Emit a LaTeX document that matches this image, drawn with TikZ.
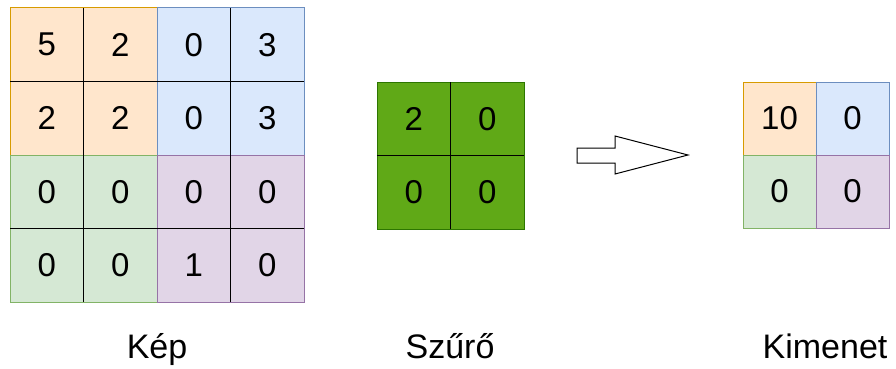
\documentclass[tikz,border=0pt]{standalone}
\usepackage{fontspec}
\setmainfont{Liberation Sans}
\definecolor{orangeF}{HTML}{FFE6CC}\definecolor{orangeD}{HTML}{D79B00}
\definecolor{blueF}{HTML}{DAE8FC}\definecolor{blueD}{HTML}{6C8EBF}
\definecolor{greenF}{HTML}{D5E8D4}\definecolor{greenD}{HTML}{82B366}
\definecolor{purpleF}{HTML}{E1D5E7}\definecolor{purpleD}{HTML}{9673A6}
\definecolor{filterF}{HTML}{60A917}\definecolor{filterD}{HTML}{2D7600}
\begin{document}
\begin{tikzpicture}[x=1pt,y=-1pt,line width=1pt,
  num/.style={font=\fontsize{33}{40}\selectfont, inner sep=0pt},
  lbl/.style={font=\fontsize{34}{40}\selectfont, inner sep=0pt, anchor=base},
  gridline/.style={draw=black, line width=1pt}]
\useasboundingbox (0,0) rectangle (896,369);

% input image: four coloured 2x2 blocks
\filldraw[fill=orangeF, draw=orangeD] (10,8) rectangle (157,155);
\filldraw[fill=blueF, draw=blueD] (157,8) rectangle (304,155);
\filldraw[fill=greenF, draw=greenD] (10,155) rectangle (157,302);
\filldraw[fill=purpleF, draw=purpleD] (157,155) rectangle (304,302);
\draw[gridline] (10,81.5) -- (304,81.5);
\draw[gridline] (10,228.5) -- (304,228.5);
\draw[gridline] (83.5,8) -- (83.5,302);
\draw[gridline] (230.5,8) -- (230.5,302);

\node[num] (k11) at (46.75,44.75) {5};
\node[num] (k12) at (120.25,44.75) {2};
\node[num] (k13) at (193.75,44.75) {0};
\node[num] (k14) at (267.25,44.75) {3};
\node[num] (k21) at (46.75,118.25) {2};
\node[num] (k22) at (120.25,118.25) {2};
\node[num] (k23) at (193.75,118.25) {0};
\node[num] (k24) at (267.25,118.25) {3};
\node[num] (k31) at (46.75,191.75) {0};
\node[num] (k32) at (120.25,191.75) {0};
\node[num] (k33) at (193.75,191.75) {0};
\node[num] (k34) at (267.25,191.75) {0};
\node[num] (k41) at (46.75,265.25) {0};
\node[num] (k42) at (120.25,265.25) {0};
\node[num] (k43) at (193.75,265.25) {1};
\node[num] (k44) at (267.25,265.25) {0};

% filter
\filldraw[fill=filterF, draw=filterD] (377,82) rectangle (524,229);
\draw[gridline] (377,155.5) -- (524,155.5);
\draw[gridline] (450.5,82) -- (450.5,229);
\node[num] (s11) at (413.75,118.75) {2};
\node[num] (s12) at (487.25,118.75) {0};
\node[num] (s21) at (413.75,192.25) {0};
\node[num] (s22) at (487.25,192.25) {0};

% block arrow
\filldraw[fill=white, draw=black] (577,148) -- (615,148) -- (615,136) -- (688,155)
  -- (615,174) -- (615,163) -- (577,163) -- cycle;

% output
\filldraw[fill=orangeF, draw=orangeD] (743,82) rectangle (816,155);
\filldraw[fill=blueF, draw=blueD] (816,82) rectangle (889,155);
\filldraw[fill=greenF, draw=greenD] (743,155) rectangle (816,228);
\filldraw[fill=purpleF, draw=purpleD] (816,155) rectangle (889,228);
\node[num] (o11) at (779.5,118.5) {10};
\node[num] (o12) at (852.5,118.5) {0};
\node[num] (o21) at (779.5,191.5) {0};
\node[num] (o22) at (852.5,191.5) {0};

% captions
\node[lbl] (kep) at (157,358) {Kép};
\node[lbl] (szuro) at (450,358) {Szűrő};
\node[lbl] (kimenet) at (825,358) {Kimenet};
\end{tikzpicture}
\end{document}
